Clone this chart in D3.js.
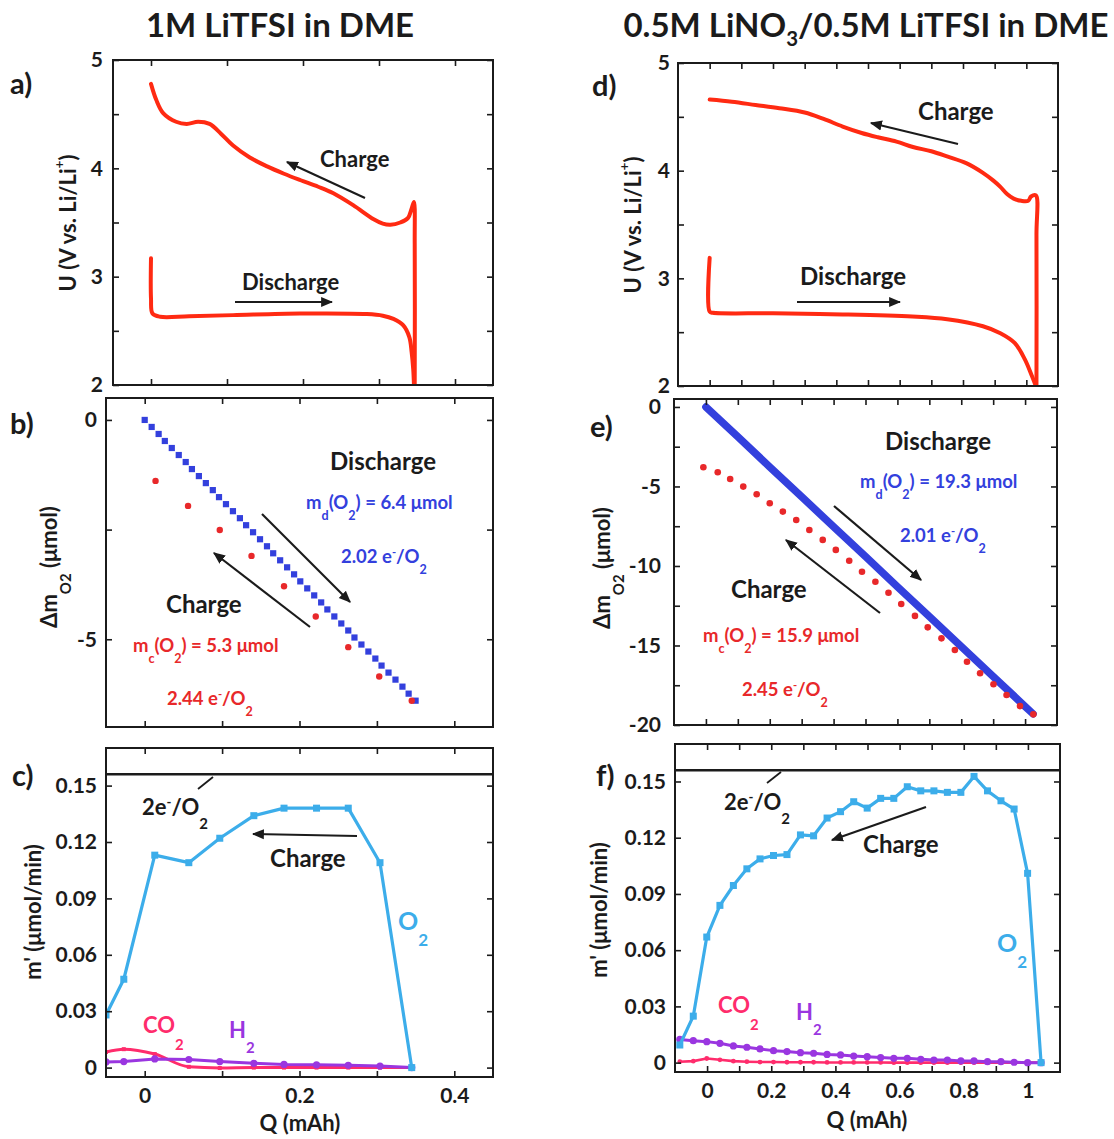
<!DOCTYPE html>
<html>
<head>
<meta charset="utf-8">
<script src="https://cdn.jsdelivr.net/npm/d3@7"></script>
<style>
  body { margin: 0; background: #fff; }
  svg { display: block; }
</style>
</head>
<body>
<svg id="fig" width="1114" height="1139"></svg>
<script>
// ---------- (a) 1M LiTFSI: voltage profile ----------
const A_DIS_Q = [0.000, 0.000, 0.002, 0.012, 0.050, 0.108, 0.196, 0.284, 0.305, 0.319, 0.332, 0.340, 0.343, 0.345, 0.346];
const A_DIS_U = [3.17, 2.80, 2.66, 2.63, 2.635, 2.645, 2.66, 2.655, 2.64, 2.61, 2.55, 2.44, 2.30, 2.15, 2.00];
const A_CHG_Q = [0.347, 0.347, 0.346, 0.343, 0.338, 0.328, 0.315, 0.305, 0.293, 0.266, 0.240, 0.220, 0.197, 0.175, 0.152, 0.130, 0.108, 0.092, 0.077, 0.062, 0.047, 0.033, 0.016, 0.007, 0.000];
const A_CHG_U = [2.00, 3.30, 3.69, 3.63, 3.54, 3.50, 3.48, 3.49, 3.53, 3.66, 3.77, 3.83, 3.89, 3.95, 4.02, 4.10, 4.21, 4.32, 4.41, 4.43, 4.41, 4.43, 4.51, 4.63, 4.78];

// ---------- (b) 1M LiTFSI: O2 consumed / evolved ----------
const B_DIS_Q = [0.000, 0.009, 0.018, 0.026, 0.035, 0.044, 0.053, 0.061, 0.070, 0.079, 0.088, 0.096, 0.105, 0.114, 0.123, 0.131, 0.140, 0.149, 0.158, 0.166, 0.175, 0.184, 0.193, 0.201, 0.210, 0.219, 0.228, 0.236, 0.245, 0.254, 0.263, 0.271, 0.280, 0.289, 0.298, 0.306, 0.315, 0.324, 0.333, 0.341, 0.350];
const B_DIS_M = [0, -0.16, -0.32, -0.48, -0.64, -0.80, -0.96, -1.12, -1.28, -1.44, -1.60, -1.76, -1.92, -2.08, -2.24, -2.40, -2.56, -2.72, -2.88, -3.04, -3.20, -3.36, -3.52, -3.68, -3.84, -4.00, -4.16, -4.32, -4.48, -4.64, -4.80, -4.96, -5.12, -5.28, -5.44, -5.60, -5.76, -5.92, -6.08, -6.24, -6.40];
const B_CHG_Q = [0.014, 0.056, 0.097, 0.138, 0.180, 0.221, 0.263, 0.303, 0.345];
const B_CHG_M = [-1.39, -1.96, -2.51, -3.10, -3.79, -4.48, -5.18, -5.85, -6.40];

// ---------- (c) 1M LiTFSI: gas evolution rates on charge ----------
const C_Q   = [-0.050, -0.027, 0.013, 0.057, 0.097, 0.141, 0.180, 0.222, 0.263, 0.304, 0.345];
const C_O2  = [0.028, 0.047, 0.113, 0.109, 0.122, 0.134, 0.138, 0.138, 0.138, 0.109, 0.000];
const C_CO2 = [0.0083, 0.0098, 0.0072, 0.0004, -0.0002, 0.0000, 0.0000, 0.0000, 0.0000, 0.0000, 0.0000];
const C_H2  = [0.0030, 0.0032, 0.0046, 0.0043, 0.0032, 0.0023, 0.0017, 0.0015, 0.0012, 0.0008, 0.0000];

// ---------- (d) LiNO3/LiTFSI: voltage profile ----------
const D_DIS_Q = [0.000, 0.000, 0.010, 0.200, 0.420, 0.640, 0.750, 0.863, 0.918, 0.963, 0.995, 1.018, 1.030];
const D_DIS_U = [3.19, 2.69, 2.68, 2.675, 2.665, 2.645, 2.62, 2.555, 2.49, 2.40, 2.25, 2.09, 2.00];
const D_CHG_Q = [1.032, 1.032, 1.030, 1.015, 1.006, 0.984, 0.960, 0.940, 0.918, 0.895, 0.863, 0.810, 0.752, 0.700, 0.642, 0.590, 0.531, 0.480, 0.420, 0.360, 0.300, 0.220, 0.145, 0.070, 0.000];
const D_CHG_U = [2.00, 3.40, 3.77, 3.76, 3.72, 3.72, 3.74, 3.78, 3.85, 3.91, 3.98, 4.07, 4.13, 4.18, 4.22, 4.27, 4.31, 4.35, 4.41, 4.48, 4.54, 4.58, 4.61, 4.64, 4.66];

// ---------- (e) LiNO3/LiTFSI: O2 consumed / evolved ----------
const E_DIS_Q = [0, 0.1, 0.2, 0.3, 0.4, 0.5, 0.6, 0.7, 0.8, 0.9, 1.0, 1.025];
const E_DIS_M = [0, -1.88, -3.77, -5.65, -7.53, -9.41, -11.30, -13.18, -15.06, -16.95, -18.83, -19.30];
const E_CHG_Q = [-0.008, 0.037, 0.076, 0.117, 0.159, 0.200, 0.241, 0.283, 0.324, 0.366, 0.407, 0.449, 0.489, 0.531, 0.572, 0.612, 0.655, 0.695, 0.738, 0.780, 0.818, 0.859, 0.901, 0.942, 0.984, 1.026];
const E_CHG_M = [-3.79, -4.11, -4.53, -5.01, -5.49, -6.06, -6.58, -7.11, -7.74, -8.36, -8.99, -9.67, -10.36, -10.99, -11.68, -12.39, -13.14, -13.86, -14.55, -15.28, -16.02, -16.75, -17.44, -18.11, -18.81, -19.33];

// ---------- (f) LiNO3/LiTFSI: gas evolution rates on charge ----------
const F_Q   = [-0.085, -0.043, -0.001, 0.040, 0.082, 0.124, 0.165, 0.207, 0.249, 0.291, 0.332, 0.374, 0.416, 0.457, 0.499, 0.541, 0.582, 0.624, 0.666, 0.707, 0.749, 0.791, 0.832, 0.874, 0.916, 0.957, 0.999, 1.041];
const F_O2  = [0.0094, 0.0248, 0.067, 0.0839, 0.0945, 0.1034, 0.1087, 0.1105, 0.111, 0.1215, 0.121, 0.1305, 0.1339, 0.1392, 0.1358, 0.141, 0.141, 0.1472, 0.145, 0.145, 0.1442, 0.1442, 0.1527, 0.145, 0.1397, 0.1353, 0.101, 0.000];
const F_CO2 = [0.0005, 0.0008, 0.0022, 0.0015, 0.0008, 0.0005, 0.0003, 0.0003, 0.0002, 0.0002, 0.0002, 0.0001, 0.0001, 0.0001, 0.0001, 0.0001, 0.0000, 0.0000, 0.0000, 0.0000, 0.0000, 0.0000, 0.0000, 0.0000, 0.0000, 0.0000, 0.0000, 0.0000];
const F_H2  = [0.0124, 0.0117, 0.0112, 0.0103, 0.0089, 0.0082, 0.0073, 0.0064, 0.0059, 0.0053, 0.0050, 0.0044, 0.0041, 0.0035, 0.0032, 0.0027, 0.0023, 0.0023, 0.0018, 0.0014, 0.0014, 0.0009, 0.0009, 0.0005, 0.0005, 0.0002, 0.0000, 0.0000];

// theoretical O2 rate for 2 e-/O2
const RATE_2E = 0.156;

// ---------- styling ----------
const FONT = "Lato, 'Open Sans', 'DejaVu Sans', sans-serif";
const INK = "#1b1b1b";
const RED_LINE = "#ff2a12";
const RED = "#e8282a";
const BLUE = "#3340dd";
const CYAN = "#3cadea";
const PINK = "#ff2c6c";
const PURPLE = "#9a36e0";

const svg = d3.select("#fig")
  .attr("font-family", FONT)
  .attr("font-weight", 700)
  .attr("fill", INK);

const zip = (a, b) => a.map((v, i) => [v, b[i]]);

// text with sub/superscript parts: [text, shift(em, +down), scale]
function rich(sel, parts, size) {
  let cur = 0;
  parts.forEach(p => {
    const [t, sh = 0, sc = 1] = typeof p === "string" ? [p] : p;
    const target = sh * size;
    const ts = sel.append("tspan").attr("dy", target - cur).text(t);
    if (sc !== 1) ts.attr("font-size", size * sc);
    cur = target;
  });
  return sel;
}
function label(x, y, parts, size, color, anchor) {
  const t = svg.append("text").attr("x", x).attr("y", y)
    .attr("font-size", size).attr("fill", color || INK)
    .attr("text-anchor", anchor || "start");
  return rich(t, parts, size);
}
function vlabel(x, y, parts, size) {
  const t = svg.append("text")
    .attr("transform", `translate(${x},${y}) rotate(-90)`)
    .attr("font-size", size).attr("text-anchor", "middle");
  return rich(t, parts, size);
}

// arrow marker
svg.append("defs").append("marker")
  .attr("id", "head").attr("viewBox", "0 0 10 10")
  .attr("refX", 9).attr("refY", 5)
  .attr("markerWidth", 5.5).attr("markerHeight", 5.5)
  .attr("markerUnits", "strokeWidth")
  .attr("orient", "auto")
  .append("path").attr("d", "M0,0.8 L10,5 L0,9.2 Z").attr("fill", INK);

function arrow(x1, y1, x2, y2) {
  svg.append("line").attr("x1", x1).attr("y1", y1).attr("x2", x2).attr("y2", y2)
    .attr("stroke", INK).attr("stroke-width", 2.2).attr("marker-end", "url(#head)");
}

let clipCount = 0;
function makePanel(cfg) {
  const x = d3.scaleLinear().domain(cfg.xd).range(cfg.xr);
  const y = d3.scaleLinear().domain(cfg.yd).range(cfg.yr);
  const id = "clip" + (clipCount++);
  svg.select("defs").append("clipPath").attr("id", id)
    .append("rect").attr("x", cfg.xr[0]).attr("y", cfg.yr[1])
    .attr("width", cfg.xr[1] - cfg.xr[0]).attr("height", cfg.yr[0] - cfg.yr[1]);
  const g = svg.append("g");
  const plot = g.append("g").attr("clip-path", `url(#${id})`);

  const style = (sel) => {
    sel.select(".domain").remove();
    sel.selectAll(".tick line").attr("stroke", INK).attr("stroke-width", 1.6);
    sel.attr("font-family", FONT).attr("font-weight", 700)
       .attr("font-size", cfg.tickFont || 21);
    sel.selectAll("text").attr("fill", INK);
  };
  const L = cfg.xr[0], R = cfg.xr[1], B = cfg.yr[0], T = cfg.yr[1];
  g.append("g").attr("transform", `translate(${L},0)`)
    .call(d3.axisLeft(y).tickValues(cfg.yt).tickSize(-6)
      .tickPadding(cfg.yPad).tickFormat(cfg.yf)).call(style);
  g.append("g").attr("transform", `translate(${R},0)`)
    .call(d3.axisRight(y).tickValues(cfg.yt).tickSize(-6).tickFormat("")).call(style);
  g.append("g").attr("transform", `translate(0,${T})`)
    .call(d3.axisTop(x).tickValues(cfg.xt).tickSize(-6).tickFormat("")).call(style);
  g.append("g").attr("transform", `translate(0,${B})`)
    .call(d3.axisBottom(x).tickValues(cfg.xt).tickSize(-6)
      .tickPadding(cfg.xPad || 12).tickFormat(cfg.xf || "")).call(style);
  g.append("rect").attr("x", L).attr("y", T).attr("width", R - L).attr("height", B - T)
    .attr("fill", "none").attr("stroke", INK).attr("stroke-width", 2);
  return { x, y, plot, g };
}

const curve = d3.curveCatmullRom.alpha(0.5);
function drawLine(p, xs, ys, color, width, cv) {
  const line = d3.line().x(d => p.x(d[0])).y(d => p.y(d[1])).curve(cv || d3.curveLinear);
  p.plot.append("path").datum(zip(xs, ys)).attr("d", line)
    .attr("fill", "none").attr("stroke", color).attr("stroke-width", width)
    .attr("stroke-linejoin", "round").attr("stroke-linecap", "round");
}
function drawSquares(p, xs, ys, color, s) {
  p.plot.append("g").selectAll("rect").data(zip(xs, ys)).join("rect")
    .attr("x", d => p.x(d[0]) - s / 2).attr("y", d => p.y(d[1]) - s / 2)
    .attr("width", s).attr("height", s).attr("fill", color);
}
function drawDots(p, xs, ys, color, r) {
  p.plot.append("g").selectAll("circle").data(zip(xs, ys)).join("circle")
    .attr("cx", d => p.x(d[0])).attr("cy", d => p.y(d[1])).attr("r", r).attr("fill", color);
}

const intFmt = d => (Number.isInteger(d) ? d3.format("d")(d) : "");
const rateFmt = d => d === 0 ? "0" : d3.format(".2f")(d);
const qFmt = d => d === 0 ? "0" : (d === 1 ? "1" : d3.format(".1f")(d));
const m25 = d => (d % 5 === 0 ? d3.format("d")(d).replace("\u2212", "-") : "");

// ---------- titles ----------
label(280, 37, ["1M LiTFSI in DME"], 33, INK, "middle");
label(866, 37, ["0.5M LiNO", ["3", 0.28, 0.62], ["/0.5M LiTFSI in DME", 0, 1]], 33, INK, "middle");

// ---------- panel (a) ----------
const pa = makePanel({
  xr: [113, 493], yr: [385, 60], xd: [-0.05, 0.45], yd: [2, 5],
  xt: [0, 0.1, 0.2, 0.3, 0.4], yt: [2, 2.5, 3, 3.5, 4, 4.5, 5], yf: intFmt, yPad: 10
});
drawLine(pa, A_DIS_Q, A_DIS_U, RED_LINE, 4, curve);
drawLine(pa, A_CHG_Q, A_CHG_U, RED_LINE, 4, curve);

// ---------- panel (d) ----------
const q01 = d3.range(0, 11).map(i => i / 10);
const pd = makePanel({
  xr: [678, 1058], yr: [386, 63], xd: [-0.1, 1.1], yd: [2, 5],
  xt: q01, yt: [2, 2.5, 3, 3.5, 4, 4.5, 5], yf: intFmt, yPad: 8
});
drawLine(pd, D_DIS_Q, D_DIS_U, RED_LINE, 4, curve);
drawLine(pd, D_CHG_Q, D_CHG_U, RED_LINE, 4, curve);

// ---------- panel (b) ----------
const pb = makePanel({
  xr: [106, 493], yr: [727, 398], xd: [-0.05, 0.45], yd: [-7, 0.5],
  xt: [0, 0.1, 0.2, 0.3, 0.4], yt: [-5, -2.5, 0], yf: m25, yPad: 9
});
drawSquares(pb, B_DIS_Q, B_DIS_M, BLUE, 6.2);
drawDots(pb, B_CHG_Q, B_CHG_M, RED, 3.2);

// ---------- panel (e) ----------
const pe = makePanel({
  xr: [674, 1057], yr: [725, 399], xd: [-0.1, 1.1], yd: [-20, 0.5],
  xt: q01, yt: [-20, -17.5, -15, -12.5, -10, -7.5, -5, -2.5, 0], yf: m25, yPad: 13
});
drawLine(pe, E_DIS_Q, E_DIS_M, BLUE, 7.5);
drawDots(pe, E_CHG_Q, E_CHG_M, RED, 3.3);

// ---------- panel (c) ----------
const pc = makePanel({
  xr: [106, 493], yr: [1077, 748], xd: [-0.05, 0.45], yd: [-0.005, 0.17],
  xt: [0, 0.1, 0.2, 0.3, 0.4], yt: [0, 0.03, 0.06, 0.09, 0.12, 0.15], yf: rateFmt, yPad: 9,
  xf: d => ([0, 0.2, 0.4].includes(d) ? qFmt(d) : ""), xPad: 11
});
pc.plot.append("line").attr("x1", 106).attr("x2", 493)
  .attr("y1", pc.y(RATE_2E)).attr("y2", pc.y(RATE_2E)).attr("stroke", INK).attr("stroke-width", 2.4);
drawLine(pc, C_Q, C_CO2, PINK, 3, d3.curveMonotoneX);
drawSquares(pc, C_Q, C_CO2, PINK, 4);
drawLine(pc, C_Q, C_H2, PURPLE, 3);
drawDots(pc, C_Q, C_H2, PURPLE, 3.6);
drawLine(pc, C_Q, C_O2, CYAN, 3.2);
drawSquares(pc, C_Q, C_O2, CYAN, 7);

// ---------- panel (f) ----------
const pf = makePanel({
  xr: [675, 1060], yr: [1072, 744], xd: [-0.1, 1.1], yd: [-0.005, 0.17],
  xt: q01, yt: [0, 0.03, 0.06, 0.09, 0.12, 0.15], yf: rateFmt, yPad: 9,
  xf: d => ([0, 0.2, 0.4, 0.6, 0.8, 1].includes(d) ? qFmt(d) : ""), xPad: 11
});
pf.plot.append("line").attr("x1", 675).attr("x2", 1060)
  .attr("y1", pf.y(RATE_2E)).attr("y2", pf.y(RATE_2E)).attr("stroke", INK).attr("stroke-width", 2.4);
drawLine(pf, F_Q, F_CO2, PINK, 2.6);
drawDots(pf, F_Q, F_CO2, PINK, 2.4);
drawLine(pf, F_Q, F_H2, PURPLE, 3);
drawDots(pf, F_Q, F_H2, PURPLE, 3.6);
drawLine(pf, F_Q, F_O2, CYAN, 3.2);
drawSquares(pf, F_Q, F_O2, CYAN, 7);

// ---------- panel letters ----------
label(10, 94, ["a)"], 29);
label(10, 434, ["b)"], 29);
label(12, 786, ["c)"], 29);
label(592, 96, ["d)"], 29);
label(590, 437, ["e)"], 29);
label(596, 786, ["f)"], 29);

// ---------- axis titles ----------
const SUB = 0.62, SUBS = 0.68, SUP = -0.55, SUPS = 0.62;
vlabel(76, 223, ["U (V vs. Li/Li", ["+", SUP, SUPS], [")", 0, 1]], 22);
vlabel(641, 225, ["U (V vs. Li/Li", ["+", SUP, SUPS], [")", 0, 1]], 22);
vlabel(57, 567, ["\u0394m", ["O2", SUB, SUBS], [" (\u03bcmol)", 0, 1]], 22);
vlabel(610, 568, ["\u0394m", ["O2", SUB, SUBS], [" (\u03bcmol)", 0, 1]], 22);
vlabel(41, 912, ["m' (\u03bcmol/min)"], 22);
vlabel(607, 910, ["m' (\u03bcmol/min)"], 22);
label(300, 1131, ["Q (mAh)"], 22, INK, "middle");
label(867, 1128, ["Q (mAh)"], 22, INK, "middle");

// ---------- annotations ----------
const eO2 = (pre) => [pre + "e", ["-", -0.38, 0.6], ["/O", 0, 1], ["2", SUB, SUBS]];

// (a)
label(320, 167, ["Charge"], 22);
arrow(365, 198, 287, 162);
label(242, 290, ["Discharge"], 22);
arrow(235, 302, 332, 302);

// (d)
label(918, 120, ["Charge"], 24);
arrow(958, 144, 871, 123);
label(800, 285, ["Discharge"], 24);
arrow(797, 302, 900, 302);

// (b)
label(330, 470, ["Discharge"], 24);
label(306, 509, ["m", ["d", SUB, SUBS], ["(O", 0, 1], ["2", SUB, SUBS], [") = 6.4 \u03bcmol", 0, 1]], 18.5, BLUE);
label(341, 563, eO2("2.02 "), 18.5, BLUE);
arrow(262, 514, 350, 602);
label(166, 613, ["Charge"], 24);
arrow(310, 627, 214, 553);
label(133, 652, ["m", ["c", SUB, SUBS], ["(O", 0, 1], ["2", SUB, SUBS], [") = 5.3 \u03bcmol", 0, 1]], 18.5, RED);
label(167, 705, eO2("2.44 "), 18.5, RED);

// (e)
label(885, 450, ["Discharge"], 24);
label(860, 488, ["m", ["d", SUB, SUBS], ["(O", 0, 1], ["2", SUB, SUBS], [") = 19.3 \u03bcmol", 0, 1]], 18.5, BLUE);
label(900, 542, eO2("2.01 "), 18.5, BLUE);
arrow(834, 506, 921, 580);
label(731, 598, ["Charge"], 24);
arrow(880, 613, 786, 540);
label(703, 642, ["m", ["c", SUB, SUBS], ["(O", 0, 1], ["2", SUB, SUBS], [") = 15.9 \u03bcmol", 0, 1]], 18.5, RED);
label(742, 696, eO2("2.45 "), 18.5, RED);

// (c)
label(142, 815, eO2("2"), 22);
svg.append("line").attr("x1", 198).attr("y1", 789).attr("x2", 213).attr("y2", 777)
  .attr("stroke", INK).attr("stroke-width", 1.8);
label(270, 867, ["Charge"], 24);
arrow(357, 836, 253, 834);
label(398, 930, ["O", ["2", SUB, SUBS]], 25, CYAN);
label(143, 1033, ["CO", ["2", 0.75, SUBS]], 22, PINK);
label(229, 1038, ["H", ["2", 0.7, SUBS]], 22, PURPLE);

// (f)
label(724, 810, eO2("2"), 22);
svg.append("line").attr("x1", 767).attr("y1", 783).attr("x2", 781).attr("y2", 772)
  .attr("stroke", INK).attr("stroke-width", 1.8);
label(863, 853, ["Charge"], 24);
arrow(926, 807, 832, 840);
label(997, 952, ["O", ["2", SUB, SUBS]], 25, CYAN);
label(718, 1013, ["CO", ["2", 0.75, SUBS]], 22, PINK);
label(796, 1020, ["H", ["2", 0.7, SUBS]], 22, PURPLE);
</script>
</body>
</html>
